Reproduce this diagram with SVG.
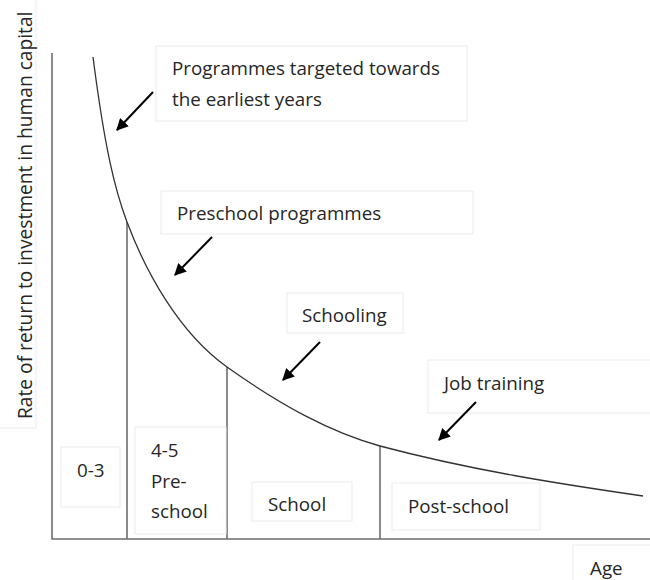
<svg xmlns="http://www.w3.org/2000/svg" width="650" height="580" viewBox="0 0 650 580">
<style>
.box{fill:#ffffff;stroke:#ebebeb;stroke-width:1}
.lbl{font-family:"Open Sans","Liberation Sans",sans-serif;font-size:18.8px;fill:#262626}
.ylbl{font-size:19.2px}
.axis{stroke:#6e6e6e;stroke-width:1.6;fill:none}
.curve{stroke:#333333;stroke-width:1.3;fill:none}
.arrow{stroke:#000000;stroke-width:2;fill:none;marker-end:url(#ah)}
</style>
<defs>
<marker id="ah" viewBox="0 0 10 10" refX="9" refY="5" markerWidth="6" markerHeight="6" orient="auto" markerUnits="strokeWidth">
<path d="M0,0 L10,5 L0,10 z" fill="#000000"/>
</marker>
</defs>
<rect width="650" height="580" fill="#ffffff"/>
<g id="axes">
<path class="axis" d="M52,53 L52,539 L650,539"/>
<path class="axis" d="M127,222 L127,539 M227,367 L227,539 M380,446 L380,539"/>
<path class="curve" d="M93,57 C105,150 115,190 127,222 C145,270 178,332 227,367 C282,406 330,432 380,446 C470,470 560,484 643,496"/>
</g>
<g id="ylabel">
<rect class="box" x="-2" y="-2" width="38" height="430"/>
<text class="lbl ylbl" transform="translate(32,419) rotate(-90)">Rate of return to investment in human capital</text>
</g>
<g id="n_earliest">
<rect class="box" x="156" y="46" width="311" height="75"/>
<text class="lbl" x="172" y="75">Programmes targeted towards</text>
<text class="lbl" x="172" y="106">the earliest years</text>
</g>
<g id="n_preschool">
<rect class="box" x="161" y="191" width="312" height="43"/>
<text class="lbl" x="177" y="220">Preschool programmes</text>
</g>
<g id="n_schooling">
<rect class="box" x="287" y="293" width="116" height="40"/>
<text class="lbl" x="302" y="322">Schooling</text>
</g>
<g id="n_job">
<rect class="box" x="428" y="360" width="224" height="53"/>
<text class="lbl" x="444" y="390">Job training</text>
</g>
<g id="n_03">
<rect class="box" x="61" y="447" width="59" height="60"/>
<text class="lbl" x="77" y="477">0-3</text>
</g>
<g id="n_45">
<rect class="box" x="135" y="427" width="91" height="107"/>
<text class="lbl" x="151" y="457">4-5</text>
<text class="lbl" x="151" y="488">Pre-</text>
<text class="lbl" x="151" y="518">school</text>
</g>
<g id="n_school">
<rect class="box" x="252" y="482" width="100" height="39"/>
<text class="lbl" x="268" y="511">School</text>
</g>
<g id="n_post">
<rect class="box" x="392" y="483" width="148" height="47"/>
<text class="lbl" x="408" y="513">Post-school</text>
</g>
<g id="n_age">
<rect class="box" x="573" y="545" width="80" height="38"/>
<text class="lbl" x="590" y="575">Age</text>
</g>
<g id="connectors">
<line class="arrow" x1="153" y1="92" x2="117" y2="130"/>
<line class="arrow" x1="212" y1="237" x2="175" y2="275"/>
<line class="arrow" x1="320" y1="342" x2="283" y2="380"/>
<line class="arrow" x1="476" y1="402" x2="439" y2="440"/>
</g>
</svg>
